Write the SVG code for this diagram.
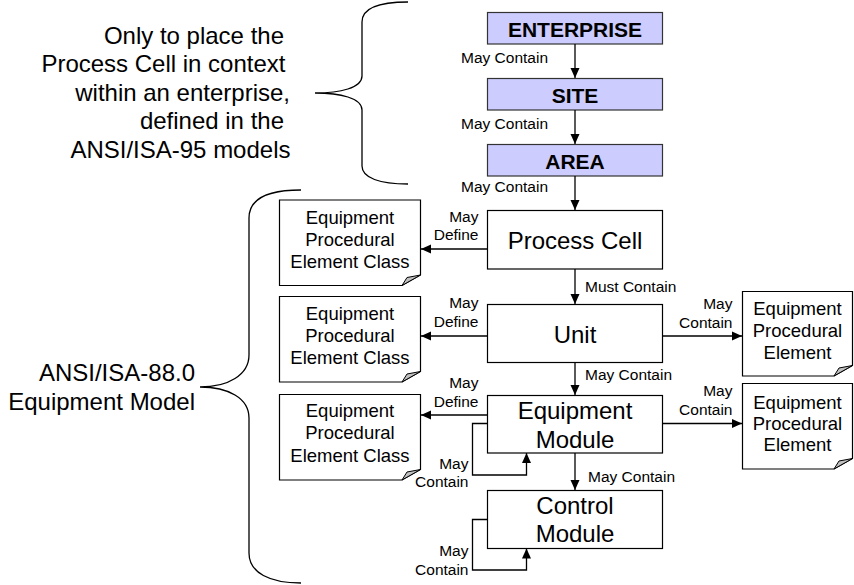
<svg xmlns="http://www.w3.org/2000/svg" width="854" height="585" viewBox="0 0 854 585">
<defs>
<style>
.t{font-family:"Liberation Sans",Arial,sans-serif;fill:#000}
.hdr{fill:#ccccff;stroke:#333;stroke-width:1.2}
.hdrt{font-size:21px;font-weight:bold;text-anchor:middle}
.box{fill:#fff;stroke:#000;stroke-width:1.2}
.boxt{font-size:24px;text-anchor:middle}
.doc{fill:#fff;stroke:#000;stroke-width:1.2}
.fold{fill:#c0c0c0;stroke:#000;stroke-width:1}
.doct{font-size:18.5px;text-anchor:middle}
.lbl{font-size:15.5px}
.lr{font-size:15.5px;text-anchor:end}
.big{font-size:24px;text-anchor:end}
.conn{fill:none;stroke:#000;stroke-width:1.3}
.brace{fill:none;stroke:#000;stroke-width:1.3}
</style>
<marker id="ah" viewBox="0 0 10 10" refX="10" refY="5" markerWidth="10" markerHeight="10" markerUnits="userSpaceOnUse" orient="auto">
<path d="M0,0.5 L10,5 L0,9.5 Z" fill="#000"/>
</marker>
</defs>
<rect width="854" height="585" fill="#fff"/>

<g id="brace-top">
<path class="brace" d="M408,2 C380,2 362,8 362,22 V76 C362,88 340,93 315,93 C340,93 362,98 362,110 V166 C362,178 380,184 408,184"/>
<text class="t big"><tspan x="284" y="43.5">Only to place the</tspan><tspan x="285.5" y="72">Process Cell in context</tspan><tspan x="290" y="100.5">within an enterprise,</tspan><tspan x="284" y="129">defined in the</tspan><tspan x="290.5" y="157.5">ANSI/ISA-95 models</tspan></text>
</g>

<g id="brace-bottom">
<path class="brace" d="M301,190 C270,190 249,198 249,218 V355 C249,375 228,387 200,387 C228,387 249,398 249,418 V553 C249,573 270,583 301,583"/>
<text class="t big"><tspan x="195" y="381">ANSI/ISA-88.0</tspan><tspan x="195" y="409.5">Equipment Model</tspan></text>
</g>

<g id="enterprise">
<rect class="hdr" x="487.5" y="12.5" width="175" height="31.5"/>
<text class="t hdrt" x="575" y="36.5">ENTERPRISE</text>
</g>
<g id="site">
<rect class="hdr" x="487.5" y="78.5" width="175" height="31.5"/>
<text class="t hdrt" x="575" y="102.5">SITE</text>
</g>
<g id="area">
<rect class="hdr" x="487.5" y="144.5" width="175" height="31.5"/>
<text class="t hdrt" x="575" y="168.5">AREA</text>
</g>

<g id="process-cell">
<rect class="box" x="487.5" y="210.5" width="175" height="58.5"/>
<text class="t boxt" x="575" y="248.5">Process Cell</text>
</g>
<g id="unit">
<rect class="box" x="487.5" y="304.5" width="175" height="58"/>
<text class="t boxt" x="575" y="342.5">Unit</text>
</g>
<g id="equipment-module">
<rect class="box" x="487.5" y="395.5" width="175" height="57.5"/>
<text class="t boxt"><tspan x="575" y="419">Equipment</tspan><tspan x="575" y="447.5">Module</tspan></text>
</g>
<g id="control-module">
<rect class="box" x="487.5" y="490.5" width="175" height="58"/>
<text class="t boxt"><tspan x="575" y="513.5">Control</tspan><tspan x="575" y="542">Module</tspan></text>
</g>

<g id="epec-1" transform="translate(279.5,200)">
<path class="doc" d="M0,0 H141 V75 L122.5,85.5 H0 Z"/>
<path class="fold" d="M122.5,85.5 L127.5,77.5 L141,75 Z"/>
<text class="t doct"><tspan x="70.5" y="23.5">Equipment</tspan><tspan x="70.5" y="45.5">Procedural</tspan><tspan x="70.5" y="67.5">Element Class</tspan></text>
</g>
<g id="epec-2" transform="translate(279.5,296.5)">
<path class="doc" d="M0,0 H141 V75 L122.5,85.5 H0 Z"/>
<path class="fold" d="M122.5,85.5 L127.5,77.5 L141,75 Z"/>
<text class="t doct"><tspan x="70.5" y="23.5">Equipment</tspan><tspan x="70.5" y="45">Procedural</tspan><tspan x="70.5" y="67">Element Class</tspan></text>
</g>
<g id="epec-3" transform="translate(279.5,394.5)">
<path class="doc" d="M0,0 H141 V75 L122.5,85.5 H0 Z"/>
<path class="fold" d="M122.5,85.5 L127.5,77.5 L141,75 Z"/>
<text class="t doct"><tspan x="70.5" y="22.5">Equipment</tspan><tspan x="70.5" y="44">Procedural</tspan><tspan x="70.5" y="67">Element Class</tspan></text>
</g>
<g id="epe-1" transform="translate(742.5,291.5)">
<path class="doc" d="M0,0 H110 V74 L91.5,84.5 H0 Z"/>
<path class="fold" d="M91.5,84.5 L96.5,76.5 L110,74 Z"/>
<text class="t doct"><tspan x="55" y="23">Equipment</tspan><tspan x="55" y="45">Procedural</tspan><tspan x="55" y="67">Element</tspan></text>
</g>
<g id="epe-2" transform="translate(742.5,383.5)">
<path class="doc" d="M0,0 H110 V75 L91.5,85.5 H0 Z"/>
<path class="fold" d="M91.5,85.5 L96.5,77.5 L110,75 Z"/>
<text class="t doct"><tspan x="55" y="25">Equipment</tspan><tspan x="55" y="46.5">Procedural</tspan><tspan x="55" y="67.5">Element</tspan></text>
</g>

<g id="connectors">
<path class="conn" d="M575,44 V78" marker-end="url(#ah)"/>
<path class="conn" d="M575,110 V144" marker-end="url(#ah)"/>
<path class="conn" d="M575,176 V210" marker-end="url(#ah)"/>
<path class="conn" d="M575,269 V304" marker-end="url(#ah)"/>
<path class="conn" d="M575,362.5 V395" marker-end="url(#ah)"/>
<path class="conn" d="M575,453 V490" marker-end="url(#ah)"/>
<path class="conn" d="M487.5,249 H421" marker-end="url(#ah)"/>
<path class="conn" d="M487.5,336 H421" marker-end="url(#ah)"/>
<path class="conn" d="M487.5,415 H421" marker-end="url(#ah)"/>
<path class="conn" d="M662.5,336 H742" marker-end="url(#ah)"/>
<path class="conn" d="M662.5,423.5 H742" marker-end="url(#ah)"/>
<path class="conn" d="M487.5,423.5 H472.5 V475 H526.5 V453" marker-end="url(#ah)"/>
<path class="conn" d="M487.5,519.5 H472.5 V570 H526.5 V548.5" marker-end="url(#ah)"/>

<text class="t lbl" x="461" y="62.5">May Contain</text>
<text class="t lbl" x="461" y="128.5">May Contain</text>
<text class="t lbl" x="461" y="192">May Contain</text>
<text class="t lbl" x="585" y="292">Must Contain</text>
<text class="t lbl" x="585" y="380">May Contain</text>
<text class="t lbl" x="588" y="481.5">May Contain</text>
<text class="t lr"><tspan x="478.5" y="221.5">May</tspan><tspan x="478.5" y="240">Define</tspan></text>
<text class="t lr"><tspan x="478.5" y="308">May</tspan><tspan x="478.5" y="327">Define</tspan></text>
<text class="t lr"><tspan x="478.5" y="388">May</tspan><tspan x="478.5" y="407">Define</tspan></text>
<text class="t lr"><tspan x="732.5" y="309">May</tspan><tspan x="732.5" y="327.5">Contain</tspan></text>
<text class="t lr"><tspan x="732.5" y="396">May</tspan><tspan x="732.5" y="415">Contain</tspan></text>
<text class="t lr"><tspan x="468.5" y="468.5">May</tspan><tspan x="468.5" y="487">Contain</tspan></text>
<text class="t lr"><tspan x="468.5" y="555.5">May</tspan><tspan x="468.5" y="574.5">Contain</tspan></text>
</g>
</svg>
